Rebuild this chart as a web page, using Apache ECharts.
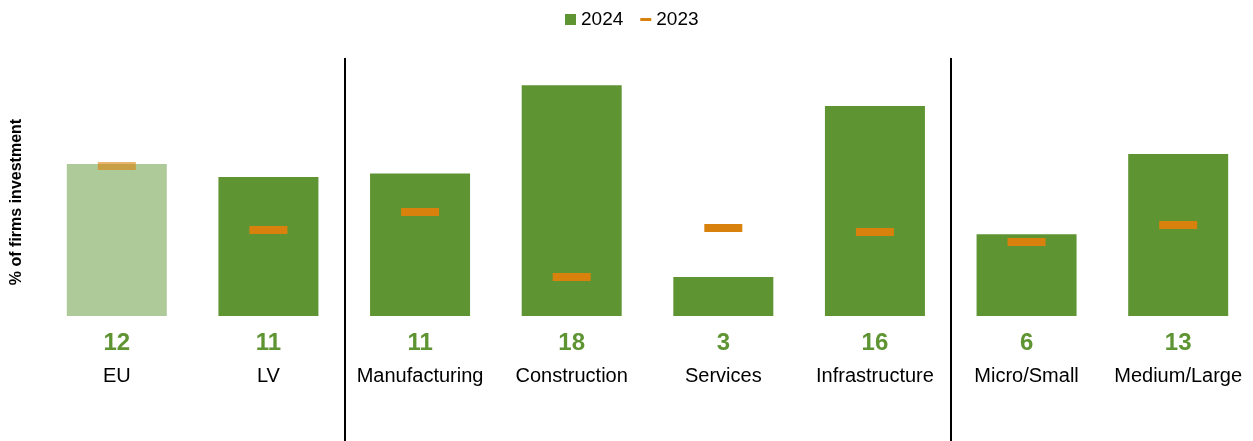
<!DOCTYPE html>
<html>
<head>
<meta charset="utf-8">
<script src="https://cdn.jsdelivr.net/npm/echarts@6/dist/echarts.min.js"></script>
<style>
  html, body { margin: 0; padding: 0; background: #fff; }
  #main { width: 1253px; height: 441px; }
</style>
</head>
<body>
<div id="main"></div>
<script>
var categories = ['EU', 'LV', 'Manufacturing', 'Construction', 'Services', 'Infrastructure', 'Micro/Small', 'Medium/Large'];
var values2024 = [11.83, 10.82, 11.1, 17.95, 3.03, 16.34, 6.36, 12.61];
var values2023 = [11.67, 6.69, 8.09, 3.03, 6.85, 6.54, 5.76, 7.08];
// group separators sit between LV|Manufacturing and Infrastructure|Micro/Small
var separators = [2, 6];

var green = '#5E9432';
var lightGreen = '#AECA99';
var orange = '#D8820D';
var font = 'Liberation Sans';

var myChart = echarts.init(document.getElementById('main'));

var barData = values2024.map(function (v, i) {
    return i === 0 ? { value: v, itemStyle: { color: lightGreen } } : v;
});
var dashData = values2023.map(function (v, i) {
    return i === 0 ? { value: v, itemStyle: { opacity: 0.6 } } : v;
});

option = {
    animation: false,
    textStyle: { fontFamily: font },
    legend: {
        top: 5,
        left: 560,
        itemWidth: 11,
        itemHeight: 11,
        itemGap: 17,
        textStyle: { fontSize: 19, color: '#000', fontFamily: font },
        data: [
            { name: '2024', icon: 'rect' },
            { name: '2023', icon: 'path://M0,0M0,11M0,4h11v3h-11z' }
        ]
    },
    grid: {
        left: 41,
        width: 1213,
        top: 58,
        bottom: 0,
        containLabel: false,
        outerBoundsMode: 'none'
    },
    xAxis: [
        {
            type: 'category',
            data: categories,
            position: 'bottom',
            offset: -125,
            axisLine: { show: false, onZero: false },
            axisTick: { show: false },
            axisLabel: {
                margin: 50,
                fontSize: 20,
                color: '#000',
                fontFamily: font,
                interval: 0
            }
        },
        {
            type: 'value',
            min: 0,
            max: categories.length,
            show: false
        }
    ],
    yAxis: {
        type: 'value',
        min: -9.73,
        max: 20.08,
        show: false,
        splitLine: { show: false }
    },
    graphic: [
        {
            type: 'text',
            x: 17,
            y: 202,
            rotation: Math.PI / 2,
            style: {
                text: '% of firms investment',
                font: 'bold 16px "Liberation Sans"',
                fill: '#000',
                textAlign: 'center',
                textVerticalAlign: 'middle'
            }
        }
    ],
    series: [
        {
            name: '2024',
            type: 'bar',
            barWidth: 100,
            itemStyle: { color: green },
            data: barData,
            label: {
                show: true,
                position: 'bottom',
                distance: 15,
                fontSize: 24,
                fontWeight: 'bold',
                color: green,
                fontFamily: font,
                formatter: function (p) { return Math.round(p.value); }
            }
        },
        {
            name: '2023',
            type: 'scatter',
            symbol: 'rect',
            symbolSize: [38, 8],
            itemStyle: { color: orange, opacity: 1 },
            data: dashData,
            z: 3
        },
        {
            name: 'sep',
            type: 'line',
            xAxisIndex: 1,
            data: [],
            silent: true,
            markLine: {
                silent: true,
                symbol: 'none',
                label: { show: false },
                lineStyle: { color: '#000', width: 2, type: 'solid' },
                data: separators.map(function (s) { return { xAxis: s }; })
            }
        }
    ]
};

myChart.setOption(option);
</script>
</body>
</html>
